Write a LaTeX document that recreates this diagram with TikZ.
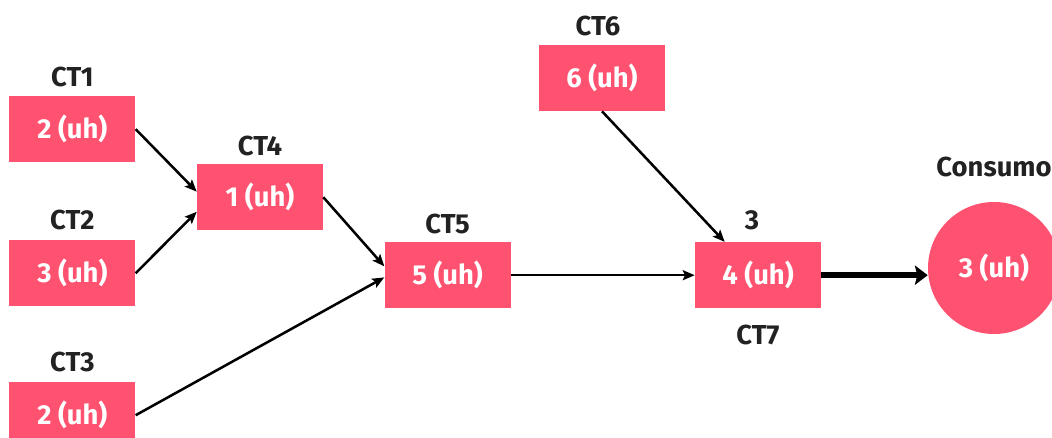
\documentclass[tikz,border=0pt]{standalone}
\usepackage{fontspec}
\setmainfont{Fira Sans}
\usepackage{tikz}
\usetikzlibrary{arrows.meta, positioning}
\usepackage{xcolor}
\definecolor{ctpink}{HTML}{FF5270}
\definecolor{ctlabel}{HTML}{222222}

\begin{document}
\begin{tikzpicture}[
  box/.style={rectangle, fill=ctpink, minimum width=3.15cm, minimum height=1.65cm, align=center, text=white, font=\fontsize{19.5}{22}\selectfont\bfseries},
  tag/.style={inner sep=0pt, text=ctlabel, font=\fontsize{19.5}{22}\selectfont\bfseries},
  arrow/.style={-{Stealth[length=0.3cm, width=0.25cm, inset=0.06cm]}, line width=1.8pt},
  bigarrow/.style={-{Stealth[length=0.32cm, width=0.48cm, inset=0.06cm]}, line width=4.3pt}
]
  \useasboundingbox (0,0) rectangle (26.3,-10.95);

  % Sources
  \node[box] (ct1) at (1.81,-3.23) {2 (uh)};
  \node[tag, above=0.22cm of ct1] {CT1};
  \node[box] (ct2) at (1.81,-6.83) {3 (uh)};
  \node[tag, above=0.24cm of ct2] {CT2};
  \node[box] (ct3) at (1.81,-10.38) {2 (uh)};
  \node[tag, above=0.24cm of ct3] {CT3};

  % Middle
  \node[box] (ct4) at (6.5,-4.93) {1 (uh)};
  \node[tag, above=0.2cm of ct4] {CT4};
  \node[box] (ct5) at (11.19,-6.88) {5 (uh)};
  \node[tag, above=0.2cm of ct5] {CT5};
  \node[box] (ct6) at (15.05,-1.95) {6 (uh)};
  \node[tag, above=0.2cm of ct6, xshift=-0.1cm] {CT6};
  \node[box] (ct7) at (18.95,-6.88) {4 (uh)};
  \node[tag, above=0.3cm of ct7, xshift=-0.15cm] {3};
  \node[tag, below=0.4cm of ct7] {CT7};

  % Consumption
  \node[circle, fill=ctpink, minimum size=3.3cm, inner sep=0pt, text=white, font=\fontsize{19.5}{22}\selectfont\bfseries] (cons) at (24.85,-6.7) {3 (uh)};
  \node[tag, above=0.62cm of cons] {Consumo};

  \draw[arrow] (ct1.east) -- (ct4.175);
  \draw[arrow] (ct2.east) -- (ct4.193);
  \draw[arrow] (ct4.east) -- (ct5.172);
  \draw[arrow] (ct3.east) -- (ct5.182);
  \draw[arrow] (ct5.east) -- (ct7.west);
  \draw[arrow] (ct6.south) -- (ct7.135);
  \draw[bigarrow] (ct7.east) -- (ct7.east -| cons.west);
\end{tikzpicture}
\end{document}
